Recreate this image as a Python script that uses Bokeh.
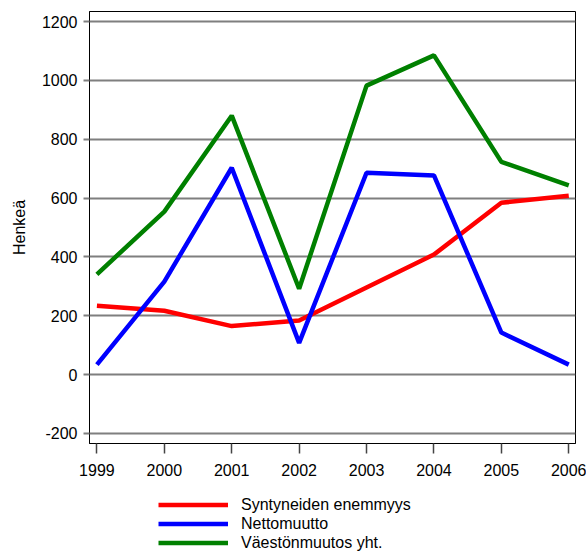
from bokeh.plotting import figure
from bokeh.layouts import column
from bokeh.models import Legend, LegendItem, FixedTicker, Range1d
from bokeh.embed import file_html
from bokeh.resources import INLINE

years = [1999, 2000, 2001, 2002, 2003, 2004, 2005, 2006]
syntyneiden = [234, 217, 165, 184, 296, 408, 584, 608]
nettomuutto = [34, 316, 703, 108, 686, 677, 143, 34]
vaestonmuutos = [341, 554, 880, 292, 982, 1085, 723, 643]
y_ticks = [-200, 0, 200, 400, 600, 800, 1000, 1200]
labels = ["Syntyneiden enemmyys", "Nettomuutto", "Väestönmuutos yht."]
colors = ["#FF0000", "#0000FF", "#008000"]

FONT = "Liberation Sans"

p = figure(width=586, height=485, output_backend="svg", toolbar_location=None,
           x_range=Range1d(1998.89, 2006.1), y_range=Range1d(-234, 1234),
           min_border_left=89, min_border_top=11, min_border_right=11, min_border_bottom=42)

for ys, c in zip([syntyneiden, nettomuutto, vaestonmuutos], colors):
    p.line(years, ys, line_color=c, line_width=4.5)

p.outline_line_color = "black"
p.outline_line_width = 1

p.xgrid.grid_line_color = None
p.ygrid.grid_line_color = "#7f7f7f"
p.ygrid.grid_line_width = 2
p.ygrid.ticker = FixedTicker(ticks=y_ticks)

p.yaxis.ticker = FixedTicker(ticks=y_ticks)
p.yaxis.major_label_overrides = {-200: "-200"}
p.xaxis.ticker = FixedTicker(ticks=years)
for ax in (p.xaxis, p.yaxis):
    ax.major_label_text_font = FONT
    ax.major_label_text_font_size = "16px"
    ax.major_label_text_color = "black"
    ax.minor_tick_line_color = None
    ax.axis_line_color = "black"
    ax.major_tick_in = 0

p.yaxis.major_tick_out = 6
p.yaxis.major_tick_line_color = "#7f7f7f"
p.yaxis.major_tick_line_width = 2
p.yaxis.major_label_standoff = 6
p.yaxis.axis_label = "Henkeä"
p.yaxis.axis_label_text_font = FONT
p.yaxis.axis_label_text_font_size = "16px"
p.yaxis.axis_label_text_font_style = "normal"
p.yaxis.axis_label_text_color = "black"
p.yaxis.axis_label_standoff = 11

p.xaxis.major_tick_out = 10
p.xaxis.major_tick_line_color = "#444444"
p.xaxis.major_tick_line_width = 1.5
p.xaxis.major_label_standoff = 10

# legend figure below the chart (frames are aligned by the column)
p2 = figure(width=586, height=67, output_backend="svg", toolbar_location=None,
            x_axis_location=None, y_axis_location=None,
            x_range=Range1d(0, 1), y_range=Range1d(0, 1),
            min_border_left=0, min_border_right=0, min_border_top=0, min_border_bottom=0)
p2.outline_line_color = None
p2.grid.grid_line_color = None
rs = [p2.line([-10, -9], [-10, -9], line_color=c, line_width=4.5) for c in colors]

legend = Legend(items=[LegendItem(label=l, renderers=[r]) for l, r in zip(labels, rs)],
                location=(69, 0), orientation="vertical",
                glyph_width=70, glyph_height=19, label_height=19, spacing=0,
                label_standoff=13, padding=0, margin=0,
                border_line_color=None, background_fill_alpha=0,
                label_text_font=FONT, label_text_font_size="16px",
                label_text_color="black")
p2.add_layout(legend, "center")

open("out.html", "w").write(file_html(column(p, p2, spacing=0), INLINE))
